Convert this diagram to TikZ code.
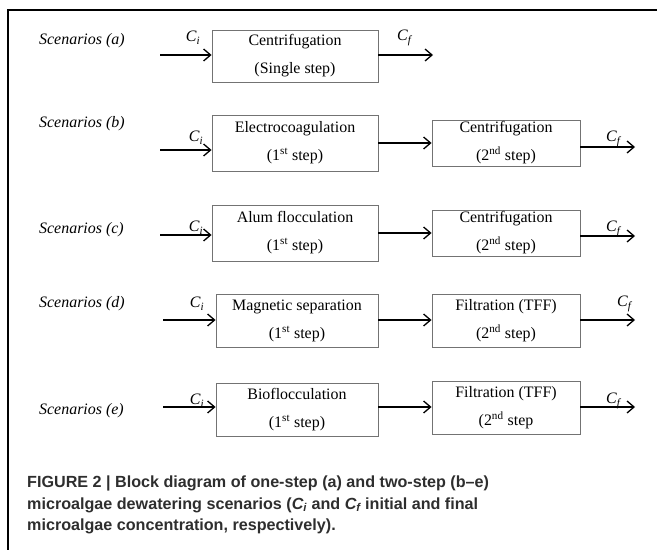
\documentclass[tikz,border=0pt]{standalone}
\usepackage{fontspec}
\setmainfont{Liberation Serif}
\newfontfamily\capfont{Liberation Sans}
\usetikzlibrary{arrows.meta}
\newcommand{\Csub}[1]{\textit{C}\textsubscript{\textit{#1}}}
\begin{document}
\begin{tikzpicture}[x=1bp,y=-1bp,
 blk/.style={draw=black!55, line width=0.9bp, inner sep=0, font=\fontsize{16}{28}\selectfont, align=center},
 flow/.style={-{Straight Barb[length=7bp,width=12bp]}, line width=1.3bp},
 lbl/.style={font=\fontsize{16}{18}\selectfont\itshape, anchor=west, inner sep=0},
 cc/.style={font=\fontsize{16}{18}\selectfont, inner sep=0}]
\useasboundingbox (0,0) rectangle (657,550);
\draw[line width=2.6bp] (8,551) -- (8,10) -- (658,10);
% row a
\node[lbl] (la) at (39,41) {Scenarios (a)};
\node[blk, minimum width=166bp, minimum height=52bp] (a1) at (295,56) {Centrifugation\\(Single step)};
\coordinate (ain) at (160,55);
\coordinate (aout) at (433,55);
\draw[flow] (ain) -- (ain -| a1.west);
\draw[flow] (aout -| a1.east) -- (aout);
\node[cc] (cia) at (193,38) {\Csub{i}};
\node[cc] (cfa) at (405,38) {\Csub{f}};
% row b
\node[lbl] (lb) at (39,124) {Scenarios (b)};
\node[blk, minimum width=166bp, minimum height=56bp] (b1) at (295,143) {Electrocoagulation\\(1\textsuperscript{st} step)};
\node[blk, minimum width=148bp, minimum height=46bp] (b2) at (506,143) {Centrifugation\\(2\textsuperscript{nd} step)};
\coordinate (bin) at (160,150);
\coordinate (bout) at (635,147);
\draw[flow] (bin) -- (bin -| b1.west);
\draw[flow] (b1.east |- 0,143) -- (b2.west |- 0,143);
\draw[flow] (bout -| b2.east) -- (bout);
\node[cc] (cib) at (196,138) {\Csub{i}};
\node[cc] (cfb) at (614,139) {\Csub{f}};
% row c
\node[lbl] (lc) at (39,230) {Scenarios (c)};
\node[blk, minimum width=166bp, minimum height=56bp] (c1) at (295,233) {Alum flocculation\\(1\textsuperscript{st} step)};
\node[blk, minimum width=148bp, minimum height=46bp] (c2) at (506,233) {Centrifugation\\(2\textsuperscript{nd} step)};
\coordinate (cin) at (160,235);
\coordinate (cout) at (635,236);
\draw[flow] (cin) -- (cin -| c1.west);
\draw[flow] (c1.east |- 0,233) -- (c2.west |- 0,233);
\draw[flow] (cout -| c2.east) -- (cout);
\node[cc] (cic) at (196,228) {\Csub{i}};
\node[cc] (cfc) at (614,229) {\Csub{f}};
% row d
\node[lbl] (ld) at (39,304) {Scenarios (d)};
\node[blk, minimum width=162bp, minimum height=53bp] (d1) at (297,321) {Magnetic separation\\(1\textsuperscript{st} step)};
\node[blk, minimum width=148bp, minimum height=53bp] (d2) at (506,321) {Filtration (TFF)\\(2\textsuperscript{nd} step)};
\coordinate (din) at (163,320);
\coordinate (dout) at (635,320);
\draw[flow] (din) -- (din -| d1.west);
\draw[flow] (d1.east |- 0,320) -- (d2.west |- 0,320);
\draw[flow] (dout -| d2.east) -- (dout);
\node[cc] (cid) at (197,304) {\Csub{i}};
\node[cc] (cfd) at (625,304) {\Csub{f}};
% row e
\node[lbl] (le) at (39,411) {Scenarios (e)};
\node[blk, minimum width=162bp, minimum height=53bp] (e1) at (297,410) {Bioflocculation\\(1\textsuperscript{st} step)};
\node[blk, minimum width=148bp, minimum height=53bp] (e2) at (506,408) {Filtration (TFF)\\(2\textsuperscript{nd} step};
\coordinate (ein) at (163,407);
\coordinate (eout) at (635,407);
\draw[flow] (ein) -- (ein -| e1.west);
\draw[flow] (e1.east |- 0,407) -- (e2.west |- 0,407);
\draw[flow] (eout -| e2.east) -- (eout);
\node[cc] (cie) at (197,401) {\Csub{i}};
\node[cc] (cfe) at (614,401) {\Csub{f}};
% caption
\node[anchor=north west, inner sep=0, align=left, text=black!82,
      font=\capfont\bfseries\fontsize{16.2}{21.5}\selectfont] (cap) at (27,476)
 {FIGURE 2 | Block diagram of one-step (a) and two-step (b\textendash e)\\
  microalgae dewatering scenarios (\textit{C\textsubscript{i}} and \textit{C\textsubscript{f}} initial and final\\
  microalgae concentration, respectively).};
\end{tikzpicture}
\end{document}
